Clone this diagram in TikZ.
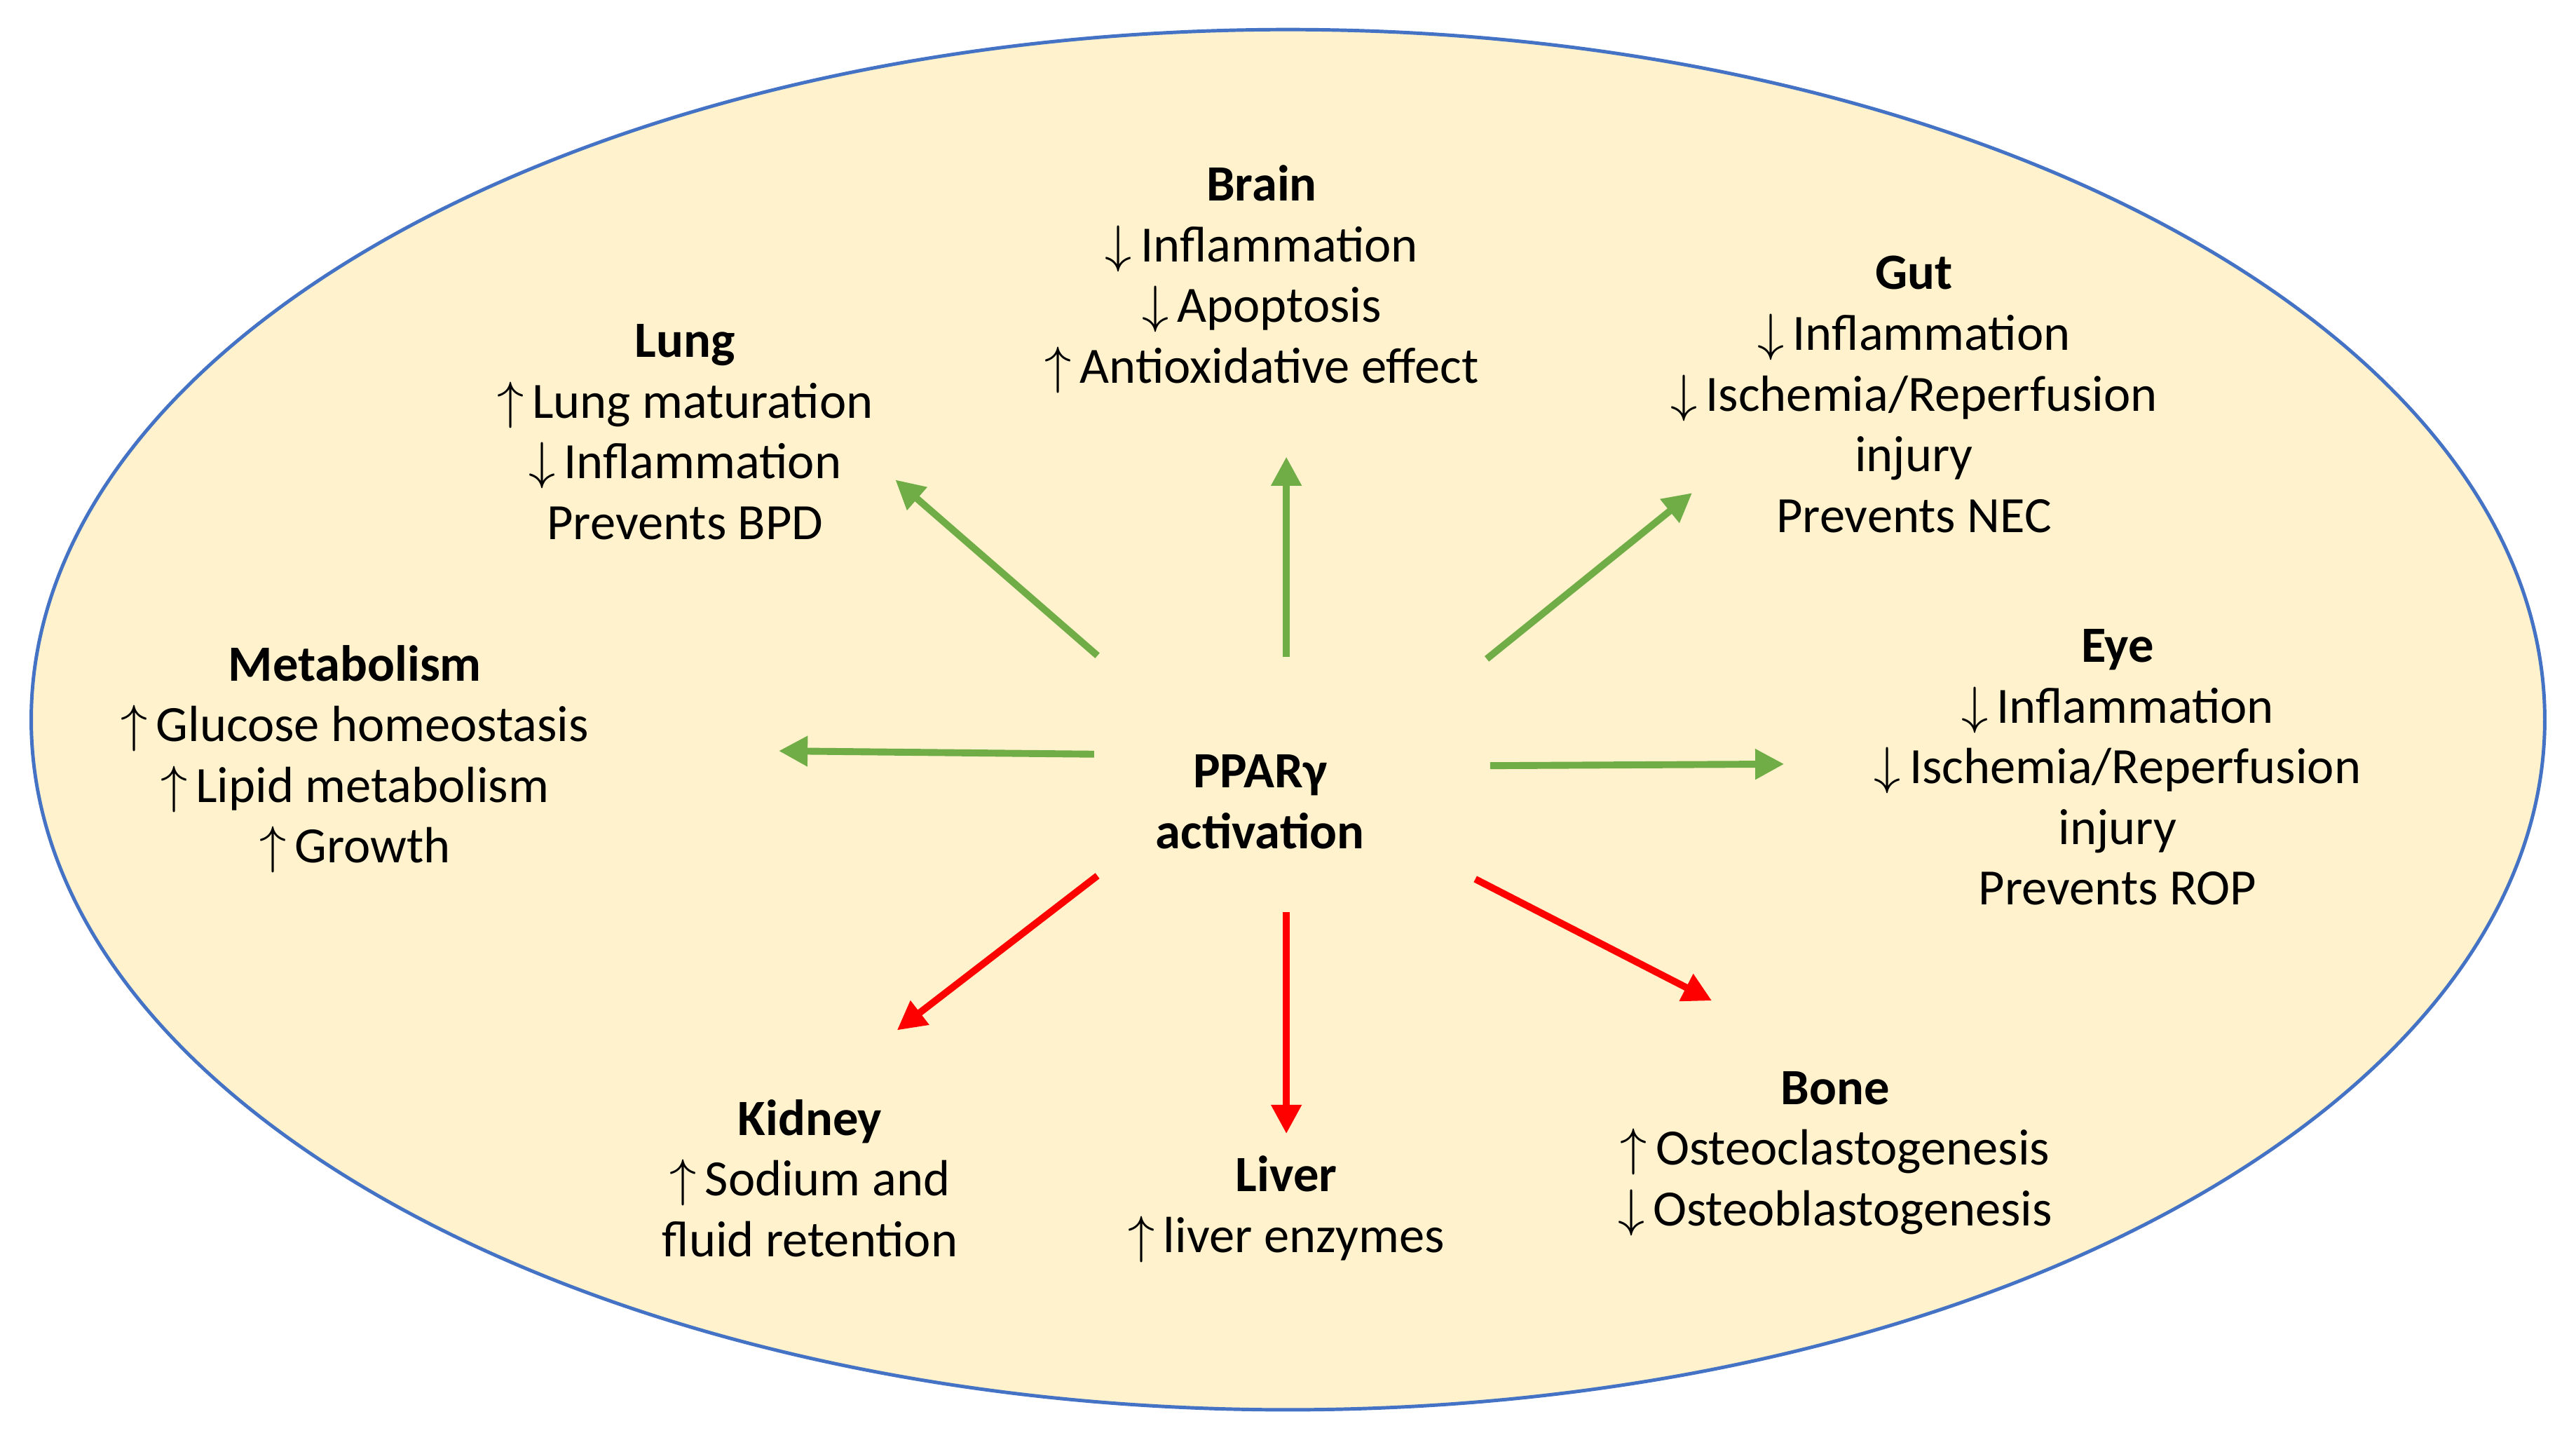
\documentclass[tikz,border=0pt]{standalone}
\usepackage{fontspec}
\setmainfont{Carlito}
\usetikzlibrary{arrows.meta}
\definecolor{bgfill}{HTML}{FFF2CC}
\definecolor{edge}{HTML}{4472C4}
\definecolor{grn}{HTML}{70AD47}
\definecolor{rd}{HTML}{FF0000}
\newcommand{\up}{$\uparrow$\,}
\newcommand{\dn}{$\downarrow$\,}
\begin{document}
\begin{tikzpicture}[x=0.01cm,y=-0.01cm,
  txt/.style={align=center,font=\fontsize{8.8}{10.5}\selectfont,inner sep=0pt},
  g/.style={draw=grn,line width=1.2pt,-{Triangle[length=5pt,width=5pt]}},
  r/.style={draw=rd,line width=1.2pt,-{Triangle[length=5pt,width=5pt]}}]
\useasboundingbox (0,0) rectangle (1568,876);
\fill[bgfill,draw=edge,line width=0.6pt] (784,438) ellipse [x radius=765, y radius=420];
\node[txt] (brain) at (768,170) {\textbf{Brain}\\\dn Inflammation\\\dn Apoptosis\\\up Antioxidative effect};
\node[txt] (lung) at (417,263) {\textbf{Lung}\\\up Lung maturation\\\dn Inflammation\\Prevents BPD};
\node[txt] (gut) at (1165,240) {\textbf{Gut}\\\dn Inflammation\\\dn Ischemia/Reperfusion\\injury\\Prevents NEC};
\node[txt] (met) at (216,462) {\textbf{Metabolism}\\\up Glucose homeostasis\\\up Lipid metabolism\\\up Growth};
\node[txt] (eye) at (1289,467) {\textbf{Eye}\\\dn Inflammation\\\dn Ischemia/Reperfusion\\injury\\Prevents ROP};
\node[txt] (ppar) at (767,488) {\textbf{PPARγ}\\\textbf{activation}};
\node[txt] (kid) at (493,717) {\textbf{Kidney}\\\up Sodium and\\fluid retention};
\node[txt] (liv) at (783,736) {\textbf{Liver}\\\up liver enzymes};
\node[txt] (bone) at (1117,702) {\textbf{Bone}\\\up Osteoclastogenesis\\\dn Osteoblastogenesis};
\coordinate (a1) at (668,399); \coordinate (b1) at (545,292);
\coordinate (a2) at (783,400); \coordinate (b2) at (783,278);
\coordinate (a3) at (905,401); \coordinate (b3) at (1030,300);
\coordinate (a4) at (666,459); \coordinate (b4) at (474,457);
\coordinate (a5) at (907,466); \coordinate (b5) at (1086,465);
\coordinate (a6) at (668,533); \coordinate (b6) at (546,627);
\coordinate (a7) at (783,555); \coordinate (b7) at (783,690);
\coordinate (a8) at (898,535); \coordinate (b8) at (1042,609);
\draw[g] (a1) -- (b1);
\draw[g] (a2) -- (b2);
\draw[g] (a3) -- (b3);
\draw[g] (a4) -- (b4);
\draw[g] (a5) -- (b5);
\draw[r] (a6) -- (b6);
\draw[r] (a7) -- (b7);
\draw[r] (a8) -- (b8);
\end{tikzpicture}
\end{document}
